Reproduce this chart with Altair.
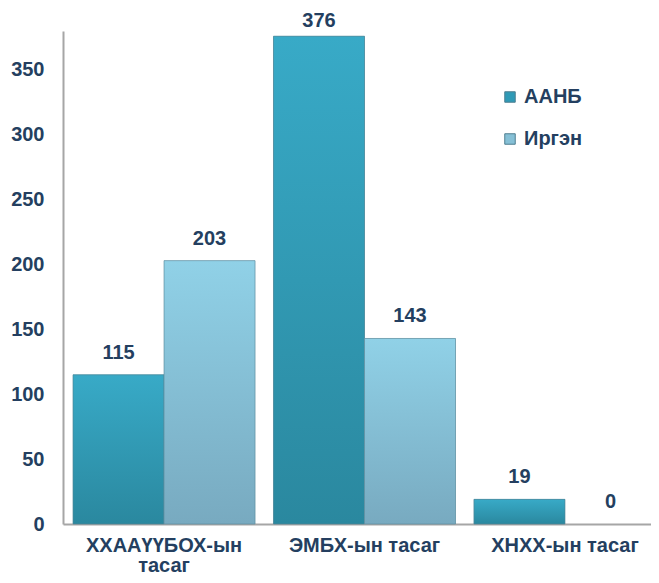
import altair as alt
import pandas as pd

categories = ["ХХААҮҮБОХ-ын тасаг", "ЭМБХ-ын тасаг", "ХНХХ-ын тасаг"]
series = ["ААНБ", "Иргэн"]
aanb = [115, 376, 19]
irgen = [203, 143, 0]

rows = []
for c, a, i in zip(categories, aanb, irgen):
    rows.append({"category": c, "series": series[0], "value": a})
    rows.append({"category": c, "series": series[1], "value": i})
df = pd.DataFrame(rows)

FONT = "Liberation Sans, Arial, sans-serif"
TXT = "#243f60"

x_enc = alt.X(
    "category:N",
    sort=categories,
    scale=alt.Scale(range=[0, 603], paddingInner=0.092, paddingOuter=0.05),
    axis=alt.Axis(
        title=None,
        labelAngle=0,
        labelFont=FONT,
        labelFontSize=20,
        labelFontWeight="bold",
        labelColor=TXT,
        labelPadding=11,
        labelLineHeight=20,
        labelExpr="datum.value == 'ХХААҮҮБОХ-ын тасаг' ? ['ХХААҮҮБОХ-ын', 'тасаг'] : datum.value",
        ticks=False,
        tickSize=0,
        domainColor="#a6a6a6",
        domainWidth=2,
        grid=False,
    ),
)
y_enc = alt.Y(
    "value:Q",
    scale=alt.Scale(domain=[0, 380], nice=False),
    axis=alt.Axis(
        title=None,
        values=[0, 50, 100, 150, 200, 250, 300, 350],
        labelFont=FONT,
        labelFontSize=20,
        labelFontWeight="bold",
        labelColor=TXT,
        labelPadding=19,
        ticks=False,
        tickSize=0,
        domainColor="#a6a6a6",
        domainWidth=2,
        grid=False,
    ),
)
xo_enc = alt.XOffset("series:N", scale=alt.Scale(domain=series, paddingInner=0, paddingOuter=0))

base = alt.Chart(df).encode(x=x_enc, y=y_enc, xOffset=xo_enc)

legend_layer = base.mark_bar().encode(
    color=alt.Color(
        "series:N",
        scale=alt.Scale(domain=series, range=["#2f9ab6", "#86c0d6"]),
        legend=alt.Legend(
            title=None,
            orient="none",
            legendX=437,
            legendY=56,
            padding=0,
            symbolType="square",
            symbolSize=110,
            symbolStrokeColor="#4f7f90",
            symbolStrokeWidth=1,
            labelFont=FONT,
            labelFontSize=20,
            labelFontWeight="bold",
            labelColor=TXT,
            labelOffset=4,
            rowPadding=22,
        ),
    )
)

gradA = alt.Gradient(
    gradient="linear", x1=0, y1=0, x2=0, y2=1,
    stops=[alt.GradientStop(offset=0, color="#38aac7"), alt.GradientStop(offset=1, color="#2a889f")],
)
gradB = alt.Gradient(
    gradient="linear", x1=0, y1=0, x2=0, y2=1,
    stops=[alt.GradientStop(offset=0, color="#90d1e7"), alt.GradientStop(offset=1, color="#78aac0")],
)

barsA = base.transform_filter(alt.datum.series == series[0]).mark_bar(
    fill=gradA, stroke="#4f8596", strokeWidth=1, strokeOpacity=0.7
)
barsB = base.transform_filter(
    (alt.datum.series == series[1]) & (alt.datum.value > 0)
).mark_bar(
    fill=gradB, stroke="#5f8fa0", strokeWidth=1, strokeOpacity=0.7
)

label_style = dict(font=FONT, fontSize=20, fontWeight="bold", color=TXT, baseline="middle")
labels_low = base.transform_filter(alt.datum.value < 370).mark_text(dy=-22, **label_style).encode(text="value:Q")
labels_top = base.transform_filter(alt.datum.value >= 370).mark_text(dy=-15, **label_style).encode(text="value:Q")

chart = alt.layer(legend_layer, barsA, barsB, labels_low, labels_top).properties(
    width=588,
    height=493,
    autosize="none",
    padding={"left": 55, "top": 23, "right": 0, "bottom": 51},
).configure_view(stroke=None)

chart.save("out.html", embed_options={"renderer": "svg", "actions": False})
